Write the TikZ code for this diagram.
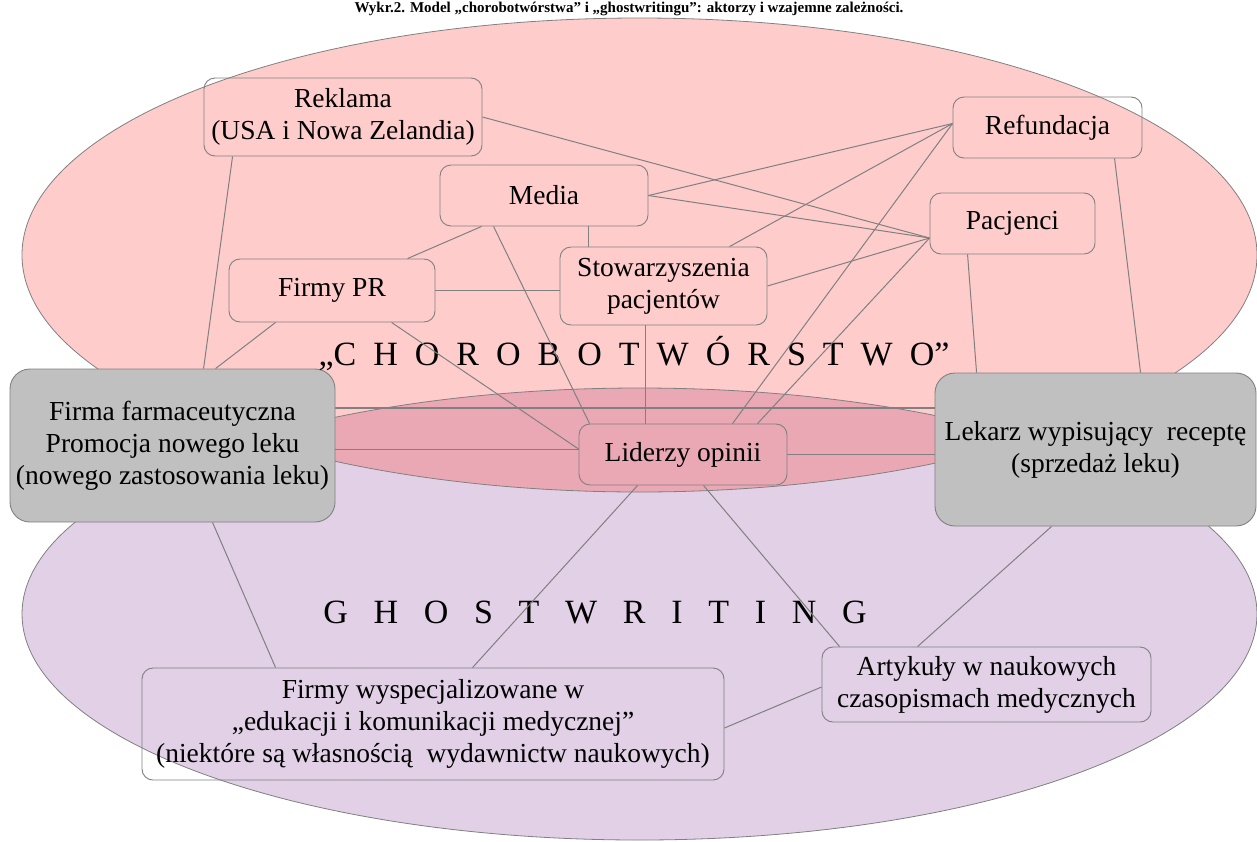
\documentclass[tikz,border=0pt]{standalone}
\usepackage{fontspec}
\setmainfont{Liberation Serif}
\usetikzlibrary{calc}
\definecolor{pinkbg}{RGB}{255,204,204}
\definecolor{purplebg}{RGB}{225,208,230}
\definecolor{lensbg}{RGB}{234,168,180}
\definecolor{boxgray}{RGB}{192,192,192}
\definecolor{linegray}{RGB}{128,128,128}
\begin{document}
\begin{tikzpicture}[x=1pt,y=-1pt,
  box/.style={draw=linegray, line width=0.9pt, rounded corners=11pt, align=center,
    inner sep=0pt, font=\fontsize{27.5}{32}\selectfont, text=black},
  graybox/.style={box, fill=boxgray, rounded corners=20pt},
  conn/.style={draw=linegray, line width=1pt},
  thickconn/.style={draw=linegray, line width=1.8pt},
  ellline/.style={draw=linegray, line width=0.8pt},
  bigtxt/.style={font=\fontsize{34}{38}\selectfont, inner sep=0pt, text=black, anchor=base}]
\useasboundingbox (0,0) rectangle (1257,841);
\fill[white] (0,0) rectangle (1257,841);
% ellipses
\fill[pinkbg] (639.5,255) ellipse [x radius=617.5, y radius=237];
\fill[purplebg] (639.5,614) ellipse [x radius=617.5, y radius=226];
\begin{scope}
  \clip (639.5,614) ellipse [x radius=617.5, y radius=226];
  \fill[lensbg] (639.5,255) ellipse [x radius=617.5, y radius=237];
\end{scope}
\draw[ellline] (639.5,255) ellipse [x radius=617.5, y radius=237];
\draw[ellline] (639.5,614) ellipse [x radius=617.5, y radius=226];
% title
\node[font=\bfseries\fontsize{15}{18}\selectfont, anchor=base, inner sep=0pt] (title) at (629,12)
  {Wykr.2. Model „chorobotwórstwa” i „ghostwritingu”: aktorzy i wzajemne zależności.};
% nodes
\node[box, minimum width=278pt, minimum height=78pt] (rek) at (343,117) {Reklama\\(USA i Nowa Zelandia)};
\node[box, minimum width=208pt, minimum height=61pt] (media) at (544,195.5) {Media};
\node[box, minimum width=189pt, minimum height=61pt] (ref) at (1047.5,127.5) {Refundacja};
\node[box, minimum width=165pt, minimum height=61pt] (pac) at (1012.5,223.5) {Pacjenci};
\node[box, minimum width=206pt, minimum height=63pt] (fpr) at (332,290.5) {Firmy PR};
\node[box, minimum width=207pt, minimum height=78pt] (stow) at (663.5,286) {Stowarzyszenia\\pacjentów};
\node[graybox, minimum width=325pt, minimum height=153pt] (firma) at (172.5,445.5)
  {Firma farmaceutyczna\\Promocja nowego leku\\(nowego zastosowania leku)};
\node[graybox, minimum width=321pt, minimum height=153pt] (lekarz) at (1095.5,449.5)
  {Lekarz wypisujący~ receptę\\(sprzedaż leku)};
\node[box, minimum width=208pt, minimum height=61pt] (lid) at (683,454.5) {Liderzy opinii};
\node[box, minimum width=582pt, minimum height=112pt] (fw) at (433,724)
  {Firmy wyspecjalizowane w\\„edukacji i komunikacji medycznej”\\(niektóre są własnością~ wydawnictw naukowych)};
\node[box, minimum width=329pt, minimum height=75pt] (art) at (986.5,684.5)
  {Artykuły w naukowych\\czasopismach medycznych};
\node[bigtxt] (chor) at (634,365) {\spaceskip=17pt\relax „C H O R O B O T W Ó R S T W O”};
\node[bigtxt] (ghost) at (595,623) {\spaceskip=25.7pt\relax G H O S T W R I T I N G};
% anchor points
\coordinate (pacL) at ([yshift=-14.5pt]pac.west);
\coordinate (refL) at ([yshift=4pt]ref.west);
\coordinate (lidL) at ([yshift=5.5pt]lid.west);
% connectors
\draw[conn] ([xshift=29pt]rek.south west) -- ([xshift=194pt]firma.north west);
\draw[conn] (rek.east) -- (pacL);
\draw[conn] (media.east) -- (refL);
\draw[conn] (media.east) -- (pacL);
\draw[conn] ([xshift=42pt]media.south west) -- ([xshift=179pt]fpr.north west);
\draw[conn] ([xshift=54pt]media.south west) -- ([xshift=11pt]lid.north west);
\draw[conn] ([xshift=149pt]media.south west) -- ([xshift=29pt]stow.north west);
\draw[conn] (fpr.east) -- (fpr.east -| stow.west);
\draw[conn] ([xshift=47pt]fpr.south west) -- ([xshift=206pt]firma.north west);
\draw[conn] ([xshift=163pt]fpr.south west) -- (lidL);
\draw[conn] ([xshift=170pt]stow.north west) -- (refL);
\draw[conn] (stow.east) -- (pacL);
\draw[conn] ([xshift=86pt]stow.south west) -- ([xshift=67pt]lid.north west);
\draw[conn] (refL) -- ([xshift=154pt]lid.north west);
\draw[conn] (pacL) -- ([xshift=179pt]lid.north west);
\draw[conn] ([xshift=38pt]pac.south west) -- ([xshift=42pt]lekarz.north west);
\draw[conn] ([xshift=162pt]ref.south west) -- ([xshift=206pt]lekarz.north west);
\draw[thickconn] ([yshift=37.5pt]firma.east) -- ([yshift=41.5pt]lekarz.west);
\draw[conn] ([yshift=-3.5pt]firma.east) -- (lidL);
\draw[conn] (lid.east) -- (lid.east -| lekarz.west);
\draw[conn] ([xshift=59pt]lid.south west) -- ([xshift=331pt]fw.north west);
\draw[conn] ([xshift=125pt]lid.south west) -- ([xshift=18pt]art.north west);
\draw[conn] ([xshift=117pt]lekarz.south west) -- ([xshift=96pt]art.north west);
\draw[conn] ([yshift=-2.5pt]art.west) -- ([yshift=-4pt]fw.east);
\draw[conn] ([xshift=203pt]firma.south west) -- ([xshift=134pt]fw.north west);
\end{tikzpicture}
\end{document}
